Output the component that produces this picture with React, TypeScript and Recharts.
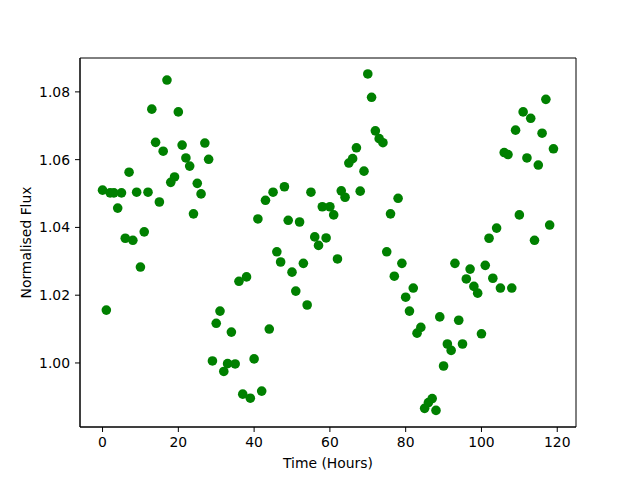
import {
  ScatterChart,
  Scatter,
  XAxis,
  YAxis,
  ReferenceArea,
} from "recharts";

// hourly samples, 0..119
const hours: number[] = Array.from({ length: 120 }, (_, i) => i);

const flux: number[] = [
  1.051, 1.0156, 1.0502, 1.0502, 1.0457, 1.0502, 1.0368, 1.0563, 1.0362, 1.0504,
  1.0283, 1.0387, 1.0504, 1.0749, 1.0651, 1.0475, 1.0625, 1.0835, 1.0533, 1.0549,
  1.0741, 1.0643, 1.0605, 1.0581, 1.044, 1.053, 1.0499, 1.0649, 1.0601, 1.0006,
  1.0117, 1.0153, 0.9975, 0.9998, 1.0091, 0.9997, 1.0241, 0.9908, 1.0254, 0.9896,
  1.0012, 1.0425, 0.9917, 1.048, 1.01, 1.0504, 1.0328, 1.0298, 1.052, 1.0421,
  1.0268, 1.0212, 1.0416, 1.0294, 1.0171, 1.0504, 1.0372, 1.0347, 1.0461, 1.0369,
  1.0461, 1.0437, 1.0307, 1.0508, 1.0489, 1.059, 1.0603, 1.0635, 1.0507, 1.0566,
  1.0853, 1.0784, 1.0685, 1.0662, 1.065, 1.0328, 1.044, 1.0256, 1.0486, 1.0294,
  1.0194, 1.0153, 1.0221, 1.0088, 1.0105, 0.9866, 0.9883, 0.9895, 0.986, 1.0136,
  0.9991, 1.0056, 1.0037, 1.0294, 1.0126, 1.0056, 1.0248, 1.0277, 1.0226, 1.0206,
  1.0086, 1.0288, 1.0368, 1.025, 1.0398, 1.0221, 1.0621, 1.0615, 1.0221, 1.0687,
  1.0437, 1.0741, 1.0605, 1.0722, 1.0362, 1.0584, 1.0678, 1.0778, 1.0407, 1.0632,
];

const xTicks = [0, 20, 40, 60, 80, 100, 120];
const yTicks = [1.0, 1.02, 1.04, 1.06, 1.08];

const data = hours.map((h, i) => ({ time: h, flux: flux[i] }));

const X_DOMAIN: [number, number] = [-5.95, 124.95];
const Y_DOMAIN: [number, number] = [0.9811, 1.09];

const font = "DejaVu Sans, sans-serif";
const tickStyle = { fill: "#000", fontSize: 13.9, fontFamily: font };

const Dot = (props: any) => (
  <circle cx={props.cx} cy={props.cy} r={4.8} fill="#008000" />
);

export default function App() {
  return (
    <div style={{ position: "absolute", left: 0, top: 0, background: "#fff" }}>
      <ScatterChart
        width={640}
        height={480}
        margin={{ top: 58, right: 64, bottom: 0, left: 0 }}
      >
        <XAxis
          type="number"
          dataKey="time"
          domain={X_DOMAIN}
          allowDataOverflow
          ticks={xTicks}
          height={53}
          tickSize={5}
          tickMargin={5}
          stroke="#000"
          tick={tickStyle}
          label={{
            value: "Time (Hours)",
            position: "insideBottom",
            offset: 12,
            style: { fill: "#000", fontSize: 13.9, fontFamily: font },
          }}
        />
        <YAxis
          type="number"
          dataKey="flux"
          domain={Y_DOMAIN}
          allowDataOverflow
          ticks={yTicks}
          width={80}
          tickSize={5}
          tickMargin={5}
          stroke="#000"
          tick={tickStyle}
          tickFormatter={(v: number) => v.toFixed(2)}
          label={{
            value: "Normalised Flux",
            angle: -90,
            position: "insideLeft",
            offset: 26,
            style: {
              fill: "#000",
              fontSize: 13.9,
              fontFamily: font,
              textAnchor: "middle",
            },
          }}
        />
        <ReferenceArea
          x1={X_DOMAIN[0]}
          x2={X_DOMAIN[1]}
          y1={Y_DOMAIN[0]}
          y2={Y_DOMAIN[1]}
          fill="none"
          stroke="#000"
          strokeWidth={1}
        />
        <Scatter data={data} shape={Dot} isAnimationActive={false} />
      </ScatterChart>
    </div>
  );
}
